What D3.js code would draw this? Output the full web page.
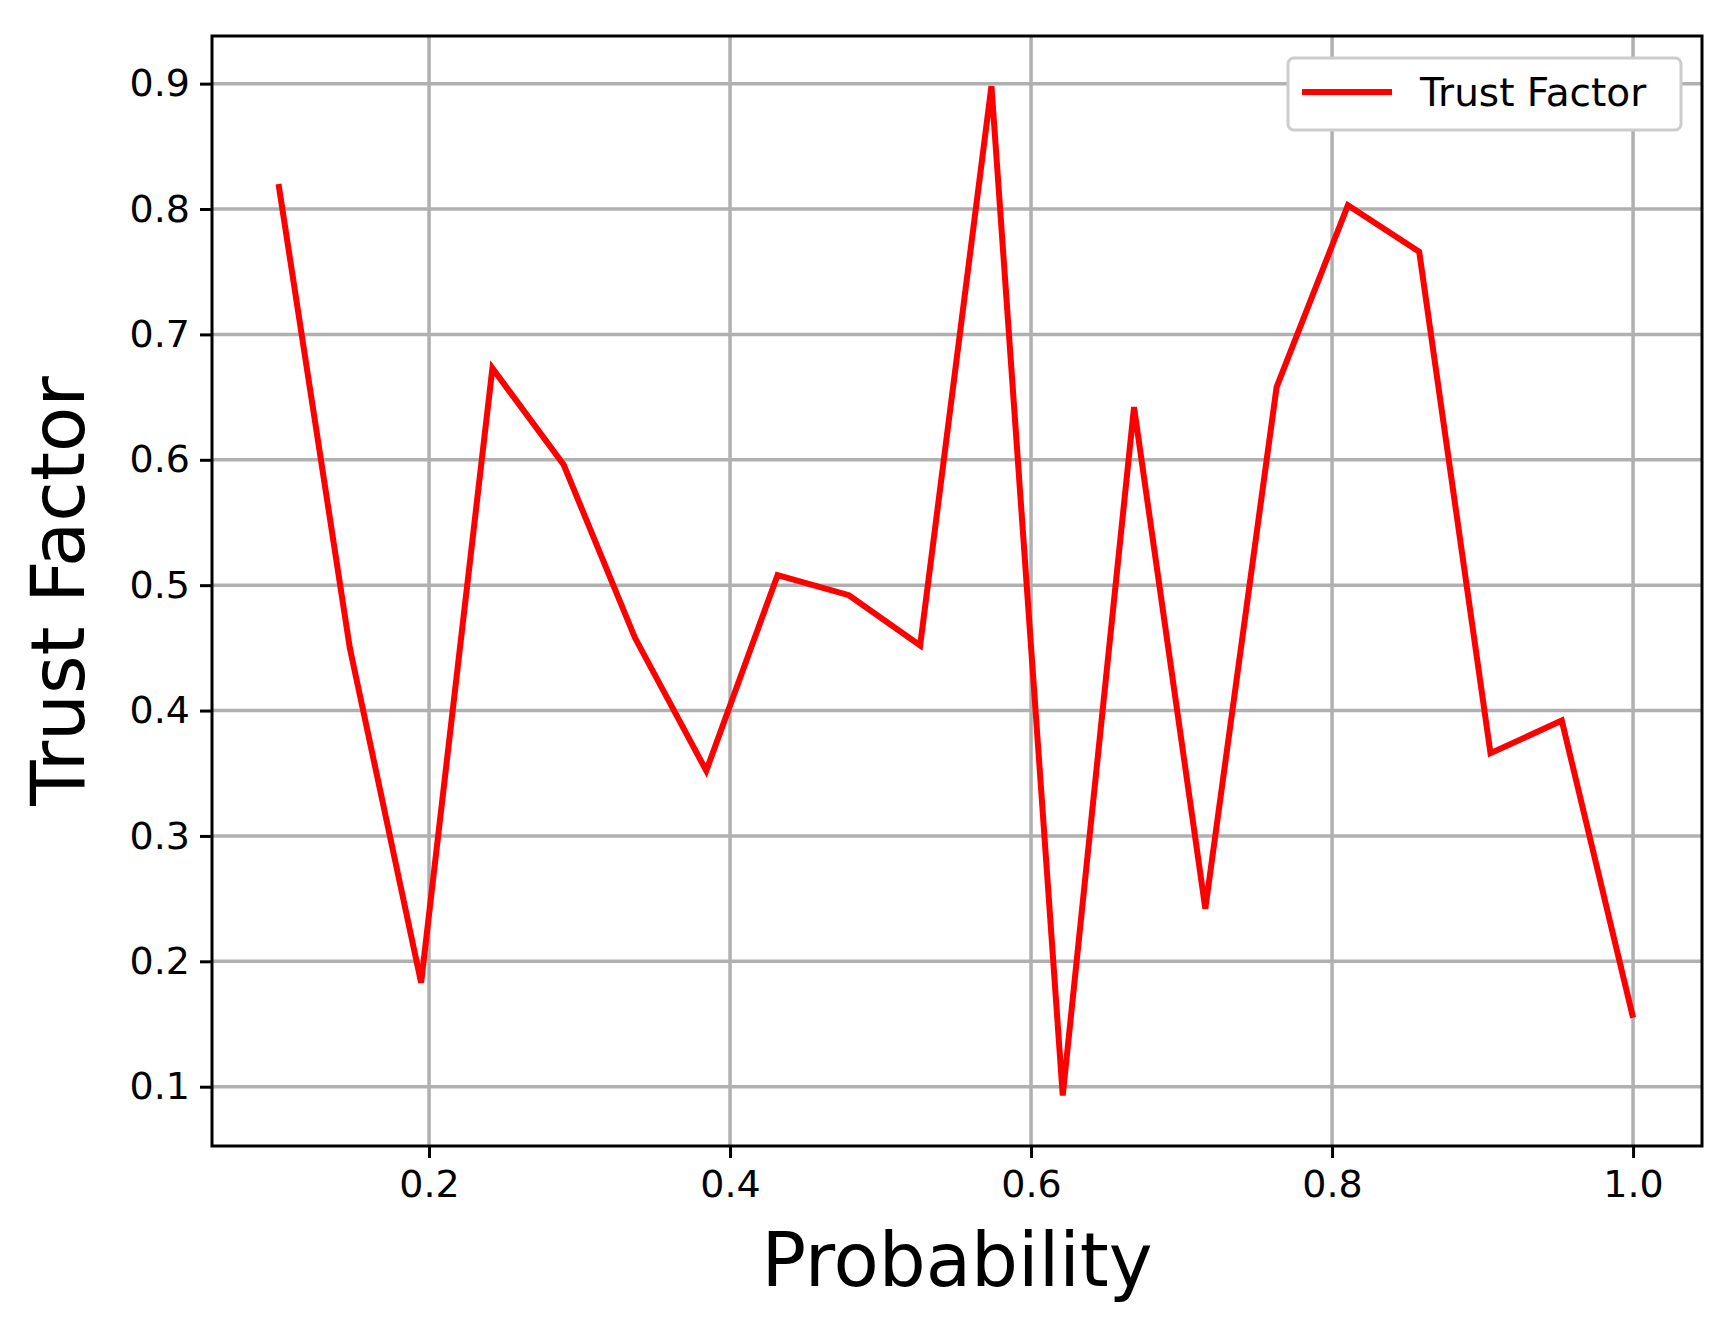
<!DOCTYPE html><html><head><script src="https://cdn.jsdelivr.net/npm/d3@7"></script>
<style>body{margin:0;background:#fff}</style></head><body><svg id="c" width="1730" height="1326"></svg>
<script>
const probability = d3.range(20).map(i => 0.1 + i*0.9/19);
const trustFactor = [0.82,0.45,0.183,0.673,0.596,0.458,0.352,0.508,0.492,0.452,0.898,0.093,0.642,0.242,0.658,0.803,0.766,0.366,0.392,0.155];
const xTicks = [0.2,0.4,0.6,0.8,1.0];
const yTicks = [0.1,0.2,0.3,0.4,0.5,0.6,0.7,0.8,0.9];
const svg = d3.select("#c");
const L=212,R=1702,T=36,B=1146;
const x = d3.scaleLinear().domain([0.0558,1.0458]).range([L,R]);
const y = d3.scaleLinear().domain([0.0527,0.938]).range([B,T]);
const font="DejaVu Sans";
const g = svg.append("g");
g.selectAll(".gx").data(xTicks).enter().append("line").attr("x1",d=>x(d)).attr("x2",d=>x(d)).attr("y1",T).attr("y2",B).attr("stroke","#b0b0b0").attr("stroke-width",3.5);
g.selectAll(".gy").data(yTicks).enter().append("line").attr("y1",d=>y(d)).attr("y2",d=>y(d)).attr("x1",L).attr("x2",R).attr("stroke","#b0b0b0").attr("stroke-width",3.5);
const xa = svg.append("g").attr("transform",`translate(0,${B})`).call(d3.axisBottom(x).tickValues(xTicks).tickFormat(d3.format(".1f")).tickSize(12).tickPadding(12));
const ya = svg.append("g").attr("transform",`translate(${L},0)`).call(d3.axisLeft(y).tickValues(yTicks).tickFormat(d3.format(".1f")).tickSize(12).tickPadding(10));
[xa,ya].forEach(a=>{a.select(".domain").remove();a.selectAll("line").attr("stroke","#000").attr("stroke-width",3);a.selectAll("text").attr("font-family",font).attr("font-size",38).attr("fill","#000");});
svg.append("path").datum(probability.map((p,i)=>[p,trustFactor[i]])).attr("d",d3.line().x(d=>x(d[0])).y(d=>y(d[1]))).attr("fill","none").attr("stroke","red").attr("stroke-width",6);
svg.append("rect").attr("x",L).attr("y",T).attr("width",R-L).attr("height",B-T).attr("fill","none").attr("stroke","#000").attr("stroke-width",3);
svg.append("text").attr("x",(L+R)/2).attr("y",1286).attr("text-anchor","middle").attr("font-family",font).attr("font-size",74).text("Probability");
svg.append("text").attr("transform",`translate(84,${(T+B)/2}) rotate(-90)`).attr("text-anchor","middle").attr("font-family",font).attr("font-size",74).text("Trust Factor");
const lg=svg.append("g");
lg.append("rect").attr("x",1288).attr("y",58).attr("width",393).attr("height",72).attr("rx",6).attr("fill","#fff").attr("stroke","#ccc").attr("stroke-width",3);
lg.append("line").attr("x1",1302).attr("x2",1392).attr("y1",92).attr("y2",92).attr("stroke","red").attr("stroke-width",6);
lg.append("text").attr("x",1420).attr("y",106).attr("font-family",font).attr("font-size",39).text("Trust Factor");
</script></body></html>
